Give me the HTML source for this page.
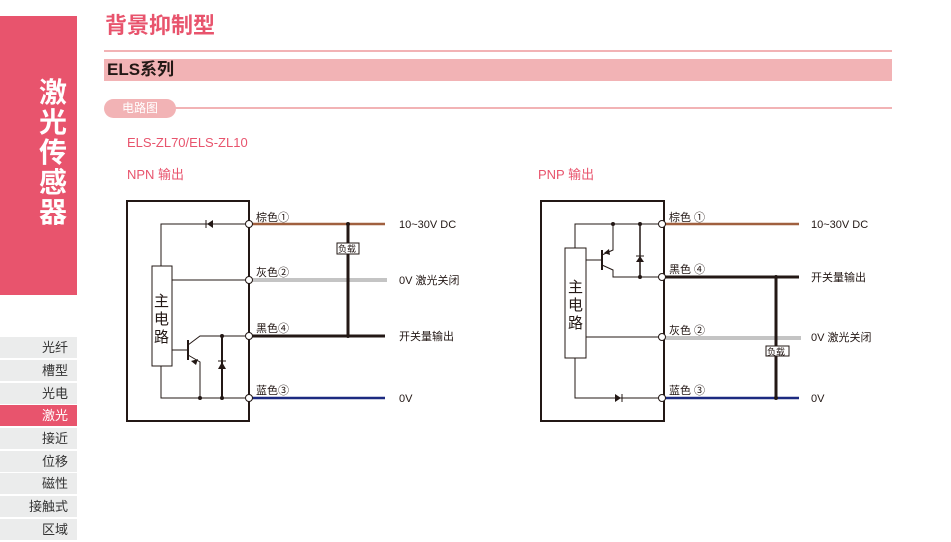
<!DOCTYPE html>
<html><head><meta charset="utf-8"><style>
body{margin:0;width:951px;height:542px;background:#fff;position:relative;overflow:hidden;font-family:"Liberation Sans","Noto Sans CJK SC",sans-serif}
.abs{position:absolute}
.side{position:absolute;left:0;width:77px;height:21px;background:#ebecec;color:#333;font-size:13px;text-align:right;box-sizing:border-box;padding-right:9px;line-height:21px}
</style></head><body>
<div class="abs" style="left:0;top:16px;width:77px;height:279px;background:#e8546d"></div>
<div class="abs" style="left:36px;top:78px;width:34px;color:#fff;font-size:28px;font-weight:bold;line-height:30px;text-align:center">激<br>光<br>传<br>感<br>器</div>
<div class="side" style="top:337px">光纤</div>
<div class="side" style="top:360px">槽型</div>
<div class="side" style="top:383px">光电</div>
<div class="side" style="top:405px;background:#e8546d;color:#fff">激光</div>
<div class="side" style="top:428px">接近</div>
<div class="side" style="top:451px">位移</div>
<div class="side" style="top:473px">磁性</div>
<div class="side" style="top:496px">接触式</div>
<div class="side" style="top:519px">区域</div>

<div class="abs" style="left:105px;top:12px;color:#e8546d;font-size:22px;font-weight:bold;line-height:28px">背景抑制型</div>
<div class="abs" style="left:104px;top:50px;width:788px;height:2px;background:#f2b3b5"></div>
<div class="abs" style="left:104px;top:59px;width:788px;height:22px;background:#f2b3b5"></div>
<div class="abs" style="left:107px;top:59px;color:#231815;font-size:17px;font-weight:bold;line-height:22px">ELS系列</div>
<div class="abs" style="left:104px;top:99px;width:72px;height:19px;border-radius:10px;background:#f2b3b5;color:#fff;font-size:12px;line-height:19px;text-align:center">电路图</div>
<div class="abs" style="left:175px;top:107px;width:717px;height:2px;background:#f2b3b5"></div>
<div class="abs" style="left:127px;top:135px;color:#e8546d;font-size:13px">ELS-ZL70/ELS-ZL10</div>
<div class="abs" style="left:127px;top:164px;color:#e8546d;font-size:13px">NPN 输出</div>
<div class="abs" style="left:538px;top:164px;color:#e8546d;font-size:13px">PNP 输出</div>

<svg class="abs" style="left:0;top:0" width="951" height="542" font-family="Liberation Sans,Noto Sans CJK SC,sans-serif" font-size="11" fill="#231815">
<g stroke="#231815" fill="none">
<!-- NPN -->
<rect x="127" y="201" width="122" height="220" stroke-width="2"/>
<rect x="152" y="266" width="20" height="100" stroke-width="1"/>
<polyline points="161,266 161,224 249,224" stroke-width="1"/>
<line x1="172" y1="280" x2="249" y2="280" stroke-width="1"/>
<polyline points="161,366 161,398 249,398" stroke-width="1"/>
<line x1="172" y1="350" x2="188" y2="350" stroke-width="1"/>
<line x1="188" y1="340" x2="188" y2="360" stroke-width="2"/>
<polyline points="188,345 200,336 249,336" stroke-width="1"/>
<polyline points="188,355 200,362 200,398" stroke-width="1"/>
<line x1="222" y1="336" x2="222" y2="398" stroke-width="2"/>
<line x1="249" y1="224" x2="385" y2="224" stroke="#a0603f" stroke-width="2.5"/>
<line x1="249" y1="280" x2="387" y2="280" stroke="#888" stroke-width="3"/>
<line x1="249" y1="280" x2="387" y2="280" stroke="#fff" stroke-width="1"/>
<line x1="249" y1="336" x2="385" y2="336" stroke-width="3"/>
<line x1="249" y1="398" x2="385" y2="398" stroke="#1c2a80" stroke-width="2.5"/>
<line x1="348" y1="224" x2="348" y2="336" stroke-width="3"/>
<rect x="337" y="243" width="22" height="11" fill="#fff" stroke-width="1"/>
<!-- PNP -->
<rect x="541" y="201" width="123" height="220" stroke-width="2"/>
<rect x="565" y="248" width="21" height="110" stroke-width="1"/>
<polyline points="575,248 575,224 662,224" stroke-width="1"/>
<line x1="586" y1="337" x2="662" y2="337" stroke-width="1"/>
<polyline points="575,358 575,398 662,398" stroke-width="1"/>
<line x1="586" y1="260" x2="602" y2="260" stroke-width="1"/>
<line x1="602" y1="250" x2="602" y2="270" stroke-width="2"/>
<polyline points="602,255 613,250 613,224" stroke-width="1"/>
<polyline points="602,265 613,270 613,277 662,277" stroke-width="1"/>
<line x1="640" y1="224" x2="640" y2="277" stroke-width="1.5"/>
<line x1="662" y1="224" x2="799" y2="224" stroke="#a0603f" stroke-width="2.5"/>
<line x1="662" y1="277" x2="799" y2="277" stroke-width="3"/>
<line x1="662" y1="338" x2="801" y2="338" stroke="#888" stroke-width="3"/>
<line x1="662" y1="338" x2="801" y2="338" stroke="#fff" stroke-width="1"/>
<line x1="662" y1="398" x2="799" y2="398" stroke="#1c2a80" stroke-width="2.5"/>
<line x1="776" y1="277" x2="776" y2="398" stroke-width="3"/>
<rect x="766" y="346" width="23" height="10" fill="#fff" stroke-width="1"/>
</g>
<g fill="#231815">
<polygon points="213,220 213,228 207,224"/><line x1="206" y1="220" x2="206" y2="228" stroke="#231815"/>
<polygon points="218,369 226,369 222,362"/><line x1="218" y1="361" x2="226" y2="361" stroke="#231815"/>
<polygon points="191,361 196,365 198,359"/>
<polygon points="636,262 644,262 640,256"/><line x1="636" y1="256" x2="644" y2="256" stroke="#231815"/>
<polygon points="615,394 615,402 621,398"/><line x1="622" y1="394" x2="622" y2="402" stroke="#231815"/>
<polygon points="604,253 609,249 610,255"/>
<circle cx="348" cy="224" r="2"/><circle cx="348" cy="336" r="2"/><circle cx="200" cy="398" r="2"/><circle cx="222" cy="398" r="2"/><circle cx="222" cy="336" r="2"/>
<circle cx="613" cy="224" r="2"/><circle cx="640" cy="224" r="2"/><circle cx="640" cy="277" r="2"/><circle cx="776" cy="277" r="2"/><circle cx="776" cy="398" r="2"/>
</g>
<g fill="#fff" stroke="#231815" stroke-width="1">
<circle cx="249" cy="224" r="3.5"/><circle cx="249" cy="280" r="3.5"/><circle cx="249" cy="336" r="3.5"/><circle cx="249" cy="398" r="3.5"/>
<circle cx="662" cy="224" r="3.5"/><circle cx="662" cy="277" r="3.5"/><circle cx="662" cy="337" r="3.5"/><circle cx="662" cy="398" r="3.5"/>
</g>
<text x="256" y="221">棕色①</text><text x="256" y="276">灰色②</text><text x="256" y="332">黑色④</text><text x="256" y="394">蓝色③</text>
<text x="399" y="228">10~30V DC</text><text x="399" y="284">0V 激光关闭</text><text x="399" y="340">开关量输出</text><text x="399" y="402">0V</text>
<text x="338" y="252" font-size="9">负载</text>
<text x="669" y="221">棕色 ①</text><text x="669" y="273">黑色 ④</text><text x="669" y="334">灰色 ②</text><text x="669" y="394">蓝色 ③</text>
<text x="811" y="228">10~30V DC</text><text x="811" y="281">开关量输出</text><text x="811" y="341">0V 激光关闭</text><text x="811" y="402">0V</text>
<text x="767" y="355" font-size="9">负载</text>
<text x="154" y="306" font-size="15">主</text><text x="154" y="324" font-size="15">电</text><text x="154" y="342" font-size="15">路</text>
<text x="568" y="292" font-size="15">主</text><text x="568" y="310" font-size="15">电</text><text x="568" y="328" font-size="15">路</text>
</svg>
</body></html>
